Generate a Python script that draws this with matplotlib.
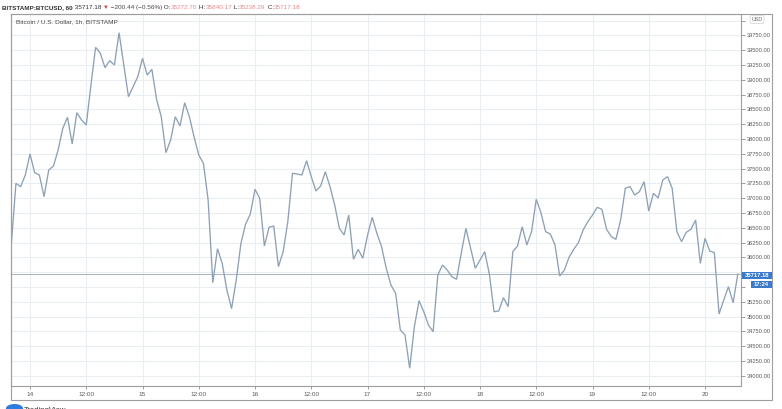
import numpy as np
import matplotlib
matplotlib.use("Agg")
import matplotlib.pyplot as plt
from matplotlib.patches import Rectangle, Circle

# ---------------- data (hourly closes, BITSTAMP BTC/USD) ----------------
# hours are counted from day "14" 00:00; first bar is 13th 20:00
start_hour = -4
prices_13 = [36208, 37250, 37193, 37390]
prices_14 = [37745, 37429, 37390, 37024, 37475, 37542, 37812, 38179, 38365, 37914,
             38443, 38319, 38235, 38910, 39547, 39446, 39203, 39321, 39248, 39794,
             39250, 38713, 38882, 39051]
prices_15 = [39361, 39079, 39175, 38669, 38375, 37767, 37981, 38375, 38218, 38611,
             38375, 38037, 37728, 37587, 36968, 35571, 36145, 35898, 35448, 35132,
             35617, 36236, 36562, 36730]
prices_16 = [37149, 36997, 36191, 36507, 36529, 35841, 36095, 36601, 37419, 37407,
             37390, 37632, 37362, 37120, 37204, 37446, 37193, 36883, 36490, 36377,
             36714, 35966, 36135, 35983]
prices_17 = [36370, 36676, 36405, 36179, 35814, 35532, 35392, 34772, 34688, 34125,
             34828, 35267, 35081, 34856, 34743, 35701, 35870, 35785, 35672, 35628,
             36068, 36490, 36152, 35814]
prices_18 = [35954, 36095, 35715, 35081, 35093, 35318, 35166, 36095, 36191, 36517,
             36208, 36433, 36980, 36753, 36433, 36394, 36208, 35684, 35785, 36000,
             36135, 36247, 36461, 36601]
prices_19 = [36714, 36845, 36811, 36473, 36350, 36304, 36630, 37166, 37193, 37052,
             37108, 37277, 36782, 37081, 37003, 37306, 37362, 37166, 36433, 36264,
             36422, 36473, 36630, 35898]
prices_20 = [36321, 36106, 36078, 35042, 35279, 35503, 35233, 35717.18]

last_price = 35717.18
countdown = "17:24"
x_tick_hours = [0, 12, 24, 36, 48, 60, 72, 84, 96, 108, 120, 132, 144]
x_tick_labels = ["14", "12:00", "15", "12:00", "16", "12:00", "17", "12:00",
                 "18", "12:00", "19", "12:00", "20"]
y_ticks = [34000 + 250 * i for i in range(25)]
# labels that sit under the USD badge / last-price badges are hidden there
y_hidden = [40000, 35750, 35500]

header_pieces = [
    ("BITSTAMP:BTCUSD, 60", "#333333", "bold"),
    (" 35717.18", "#333333", "normal"),
    (" \u25bc", "#e0474c", "normal"),
    (" \u2212200.44 (\u22120.56%)", "#444444", "normal"),
    (" O:", "#333333", "normal"), ("35272.70", "#e8898c", "normal"),
    (" H:", "#333333", "normal"), ("35840.17", "#e8898c", "normal"),
    (" L:", "#333333", "normal"), ("35238.29", "#e8898c", "normal"),
    (" C:", "#333333", "normal"), ("35717.18", "#e8898c", "normal"),
]
chart_title = "Bitcoin / U.S. Dollar, 1h, BITSTAMP"

prices = np.array(prices_13 + prices_14 + prices_15 + prices_16 +
                  prices_17 + prices_18 + prices_19 + prices_20, dtype=float)
hours = np.arange(start_hour, start_hour + len(prices))

# ---------------- figure ----------------
FONT = ['Liberation Sans Narrow', 'Liberation Sans', 'DejaVu Sans']
plt.rcParams['font.family'] = FONT

W, H = 782, 409
fig = plt.figure(figsize=(W / 100, H / 100), dpi=100)
fig.patch.set_facecolor('white')


def fx(px):
    return px / W


def fy(py):
    return 1 - py / H


L, R, T, B = 11, 741, 14, 386
ax = fig.add_axes([fx(L), fy(B), fx(R) - fx(L), fy(T) - fy(B)])
ax.set_facecolor('white')

px_per_hour = 4.6875
x0_px = 30.0
ax.set_xlim((L - x0_px) / px_per_hour, (R - x0_px) / px_per_hour)
py_per_usd = 0.0592
y40k = 20.5
ax.set_ylim(40000 - (B - y40k) / py_per_usd, 40000 + (y40k - T) / py_per_usd)

grid_c = '#eaeef2'
for yt in y_ticks:
    ax.axhline(yt, color=grid_c, lw=0.8, zorder=0)
for xt in x_tick_hours:
    ax.axvline(xt, color=grid_c, lw=0.8, zorder=0)

ax.axhline(last_price, color='#a9b3bd', lw=0.7, zorder=1)
ax.plot(hours, prices, color='#8ea1b4', lw=0.95, zorder=2, solid_joinstyle='miter')

ax.yaxis.tick_right()
ax.set_yticks(y_ticks)
ax.set_yticklabels(["" if v in y_hidden else f"{v:.2f}" for v in y_ticks])
ax.set_xticks(x_tick_hours)
ax.set_xticklabels(x_tick_labels)
ax.tick_params(axis='y', direction='out', length=3, width=0.6, color='#8a8a8a',
               labelsize=4.15, labelcolor='#5a5a5a', pad=1.0)
ax.tick_params(axis='x', direction='out', length=2, width=0.6, color='#8a8a8a',
               labelsize=4.6, labelcolor='#5a5a5a', pad=2.5)
for s in ax.spines.values():
    s.set_color('#9e9e9e')
    s.set_linewidth(0.8)

# outer frame
fig.add_artist(Rectangle((fx(L), fy(400)), fx(772) - fx(L), fy(T) - fy(400),
                         fill=False, edgecolor='#9e9e9e', lw=0.8,
                         transform=fig.transFigure))

# header text
renderer = fig.canvas.get_renderer()
xcur = 2.0
for txt, col, wt in header_pieces:
    t = fig.text(fx(xcur), fy(7.5), txt, color=col, fontsize=4.55, fontweight=wt,
                 va='center', ha='left', family=FONT)
    bb = t.get_window_extent(renderer=renderer)
    xcur += bb.width

fig.text(fx(16), fy(22), chart_title, color='#4a4a4a', fontsize=4.65,
         va='center', ha='left')

# USD badge
fig.text(fx(757), fy(19.5), "USD", color='#666666', fontsize=3.9, ha='center',
         va='center', zorder=5,
         bbox=dict(boxstyle='round,pad=0.25', fc='white', ec='#cfcfcf', lw=0.5))

# last price badges
blue = '#3b7acb'
fig.add_artist(Rectangle((fx(742), fy(279)), fx(772) - fx(742), fy(272) - fy(279),
                         facecolor=blue, edgecolor='none', transform=fig.transFigure,
                         zorder=4))
fig.text(fx(757), fy(275.5), f"{last_price:.2f}", color='white', fontsize=4.2,
         fontweight='bold', ha='center', va='center', zorder=5)
fig.add_artist(Rectangle((fx(751), fy(287.5)), fx(772) - fx(751), fy(280.5) - fy(287.5),
                         facecolor=blue, edgecolor='none', transform=fig.transFigure,
                         zorder=4))
fig.text(fx(761.5), fy(284), countdown, color='white', fontsize=4.2,
         fontweight='bold', ha='center', va='center', zorder=5)

# footer logo (cut off at bottom, as in the reference)
fig.add_artist(Circle((fx(14.5), fy(408.5)), 0.011, facecolor='#2f7ce0',
                      edgecolor='none', transform=fig.transFigure))
fig.text(fx(24), fy(410), "TradingView", color='#333333', fontsize=5.5,
         ha='left', va='center')

fig.savefig('out.png', dpi=100, facecolor='white')
